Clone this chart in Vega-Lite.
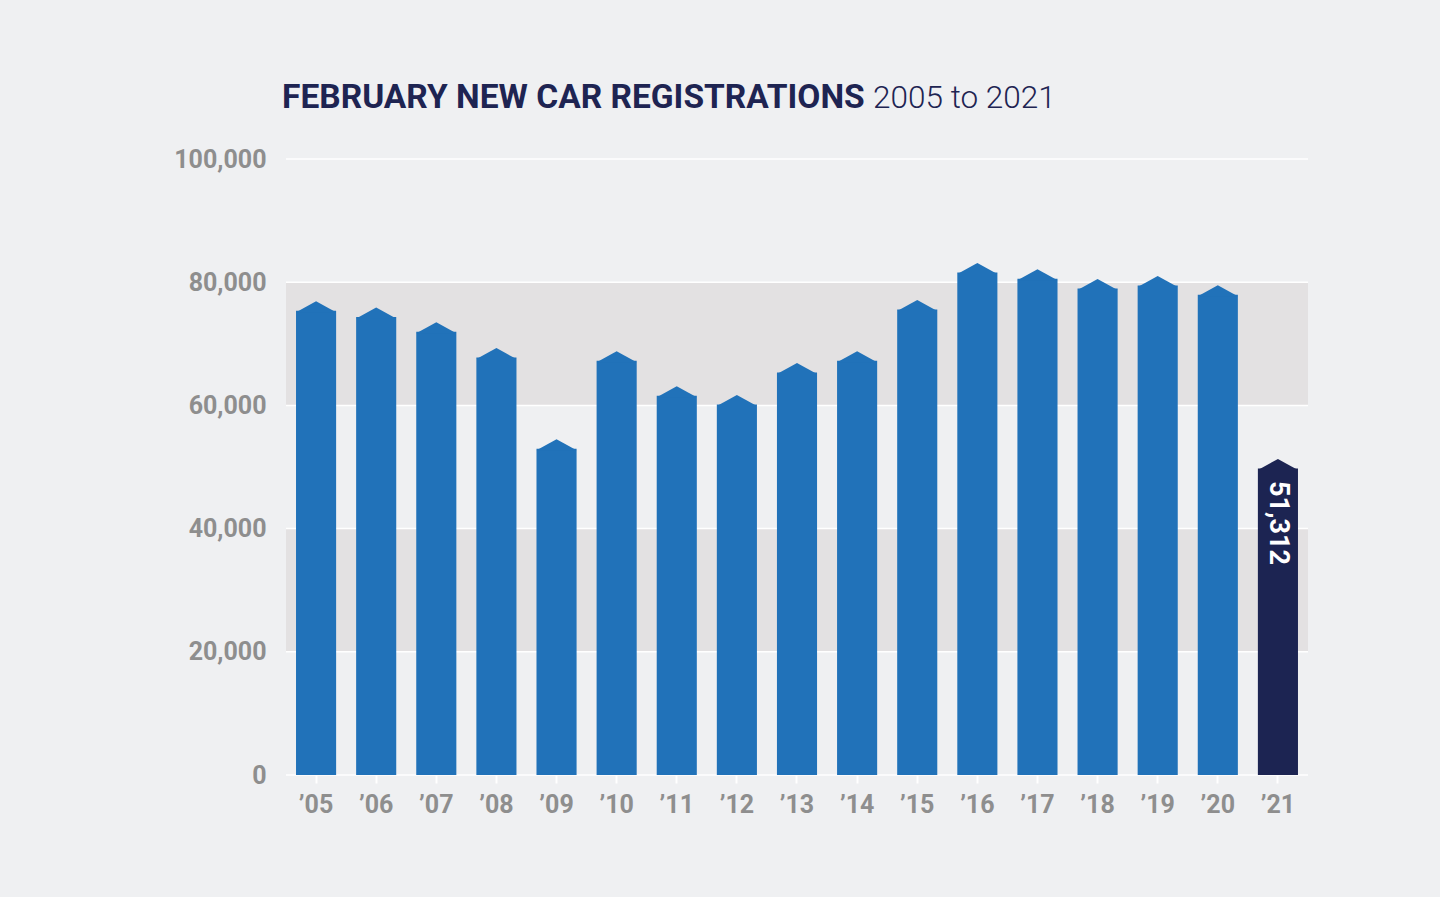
{
  "$schema": "https://vega.github.io/schema/vega-lite/v6.json",
  "width": 1022,
  "height": 616,
  "autosize": "none",
  "padding": {"left": 286, "top": 159, "right": 132, "bottom": 122},
  "background": "#eff0f2",
  "config": {"view": {"stroke": null}, "font": "Roboto"},
  "datasets": {
    "reg": [
      {"label": "’05", "value": 76900, "kind": "past", "note": ""},
      {"label": "’06", "value": 75900, "kind": "past", "note": ""},
      {"label": "’07", "value": 73500, "kind": "past", "note": ""},
      {"label": "’08", "value": 69300, "kind": "past", "note": ""},
      {"label": "’09", "value": 54500, "kind": "past", "note": ""},
      {"label": "’10", "value": 68800, "kind": "past", "note": ""},
      {"label": "’11", "value": 63100, "kind": "past", "note": ""},
      {"label": "’12", "value": 61700, "kind": "past", "note": ""},
      {"label": "’13", "value": 66900, "kind": "past", "note": ""},
      {"label": "’14", "value": 68800, "kind": "past", "note": ""},
      {"label": "’15", "value": 77100, "kind": "past", "note": ""},
      {"label": "’16", "value": 83100, "kind": "past", "note": ""},
      {"label": "’17", "value": 82100, "kind": "past", "note": ""},
      {"label": "’18", "value": 80500, "kind": "past", "note": ""},
      {"label": "’19", "value": 81000, "kind": "past", "note": ""},
      {"label": "’20", "value": 79500, "kind": "past", "note": ""},
      {"label": "’21", "value": 51312, "kind": "current", "note": "51,312"}
    ]
  },
  "layer": [
    {
      "data": {"values": [{"lo": 20000, "hi": 40000}, {"lo": 60000, "hi": 80000}]},
      "mark": {"type": "rect", "color": "#e3e1e2"},
      "encoding": {
        "y": {
          "field": "lo", "type": "quantitative",
          "scale": {"domain": [0, 100000], "nice": false, "zero": true},
          "axis": {
            "title": null, "values": [0, 20000, 40000, 60000, 80000, 100000],
            "labelExpr": "format(datum.value, ',')",
            "grid": false, "ticks": false, "domain": false,
            "labelFont": "Roboto", "labelFontSize": 25, "labelFontWeight": "bold", "labelColor": "#8e8e8e",
            "labelPadding": 20
          }
        },
        "y2": {"field": "hi"}
      }
    },
    {
      "data": {"values": [{"v": 0}, {"v": 20000}, {"v": 40000}, {"v": 60000}, {"v": 80000}, {"v": 100000}]},
      "mark": {"type": "rule", "color": "#ffffff", "strokeWidth": 1.5},
      "encoding": {
        "y": {"field": "v", "type": "quantitative"}
      }
    },
    {
      "data": {"name": "reg"},
      "mark": {"type": "bar", "yOffset": 9.5, "y2Offset": 0},
      "encoding": {
        "x": {
          "field": "label", "type": "nominal", "sort": null,
          "scale": {"paddingInner": 0.333, "paddingOuter": 0.1667},
          "axis": {
            "title": null, "labelAngle": 0, "domain": false,
            "labelFont": "Roboto", "labelFontSize": 25, "labelFontWeight": "bold", "labelColor": "#8e8e8e",
            "labelPadding": 9, "tickColor": "#ffffff", "tickSize": 8, "tickWidth": 2
          }
        },
        "y": {"field": "value", "type": "quantitative"},
        "y2": {"datum": 0},
        "color": {"field": "kind", "type": "nominal", "scale": {"domain": ["past", "current"], "range": ["#2172b9", "#1c2452"]}, "legend": null}
      }
    },
    {
      "data": {"name": "reg"},
      "mark": {"type": "point", "shape": "M-1,0.55L0,0L1,0.55Z", "size": 1600, "filled": true, "opacity": 1, "strokeWidth": 0},
      "encoding": {
        "x": {"field": "label", "type": "nominal", "sort": null},
        "y": {"field": "value", "type": "quantitative"},
        "color": {"field": "kind", "type": "nominal", "legend": null}
      }
    },
    {
      "data": {"name": "reg"},
      "mark": {"type": "text", "angle": 90, "align": "left", "baseline": "middle", "dx": 22, "color": "#ffffff", "font": "Roboto", "fontSize": 27, "fontWeight": "bold"},
      "encoding": {
        "x": {"field": "label", "type": "nominal", "sort": null},
        "y": {"field": "value", "type": "quantitative"},
        "text": {"field": "note"}
      }
    },
    {
      "data": {"values": [{"t": "FEBRUARY NEW CAR REGISTRATIONS"}]},
      "mark": {"type": "text", "align": "left", "baseline": "alphabetic", "dx": -34, "color": "#1e2452", "font": "Roboto", "fontSize": 33.5, "fontWeight": "bold"},
      "encoding": {
        "x": {"datum": "’05", "type": "nominal"},
        "y": {"datum": 108300, "type": "quantitative"},
        "text": {"field": "t"}
      }
    },
    {
      "data": {"values": [{"t": "2005 to 2021"}]},
      "mark": {"type": "text", "align": "left", "baseline": "alphabetic", "dx": 16, "color": "#1e2452", "font": "Roboto", "fontSize": 31.5, "fontWeight": 300},
      "encoding": {
        "x": {"datum": "’14", "type": "nominal"},
        "y": {"datum": 108300, "type": "quantitative"},
        "text": {"field": "t"}
      }
    }
  ]
}
